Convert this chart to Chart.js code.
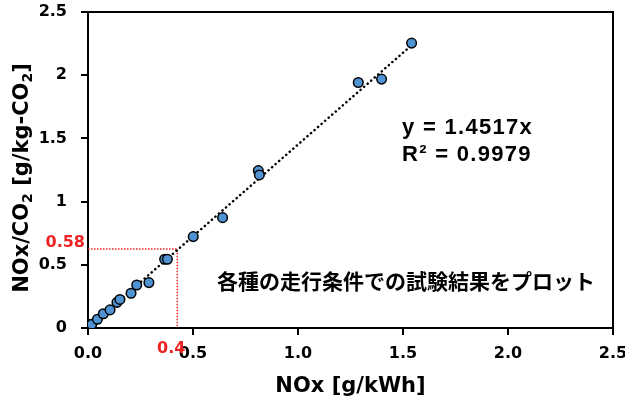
<!DOCTYPE html>
<html>
<head>
<meta charset="utf-8">
<script src="https://cdn.jsdelivr.net/npm/chart.js@4"></script>
<style>
  html, body { margin: 0; padding: 0; background: #fff; }
  #wrap { width: 625px; height: 405px; }
</style>
</head>
<body>
<div id="wrap"><canvas id="myChart" width="625" height="405"></canvas></div>
<script>
const noxX = [0.018, 0.045, 0.073, 0.105, 0.138, 0.152, 0.205, 0.232, 0.290, 0.365, 0.378, 0.501, 0.641, 0.811, 0.816, 1.287, 1.398, 1.541];
const noxY = [0.029, 0.069, 0.113, 0.143, 0.203, 0.226, 0.275, 0.340, 0.359, 0.544, 0.544, 0.723, 0.873, 1.245, 1.211, 1.942, 1.969, 2.254];

// trend line y = 1.4517x
const slope = 1.4517;
const trendX = [0, 1.55];

// red guide lines
const guideX = [0, 0.425, 0.425];
const guideY = [0.625, 0.625, 0];

const xTicks = [0, 0.5, 1.0, 1.5, 2.0, 2.5];
const yTicks = [0, 0.5, 1, 1.5, 2, 2.5];

// y title pieces: [text, subscript?]
const yTitle = [['NOx/CO', false], ['2', true], [' [g/kg-CO', false], ['2', true], [']', false]];

const boldFont = "'DejaVu Sans', sans-serif";

const points = noxX.map((x, i) => ({ x: x, y: noxY[i] }));
const trend = trendX.map(x => ({ x: x, y: slope * x }));
const guide = guideX.map((x, i) => ({ x: x, y: guideY[i] }));

const extras = {
    id: 'extras',
    beforeDatasetsDraw(chart) {
        const { ctx, chartArea: a } = chart;
        ctx.save();
        ctx.strokeStyle = '#000';
        ctx.lineWidth = 2;
        ctx.beginPath();
        ctx.moveTo(a.left, a.top);
        ctx.lineTo(a.right, a.top);
        ctx.lineTo(a.right, a.bottom);
        ctx.stroke();
        ctx.restore();
    },
    afterDraw(chart) {
        const { ctx } = chart;
        const xs = chart.scales.x, ys = chart.scales.y;
        ctx.save();
        ctx.fillStyle = '#000';
        ctx.textBaseline = 'middle';
        ctx.textAlign = 'left';

        // y axis title with real subscripts
        const big = "bold 21px " + boldFont, small = "bold 14px " + boldFont;
        let total = 0;
        yTitle.forEach(([t, sub]) => { ctx.font = sub ? small : big; total += ctx.measureText(t).width; });
        ctx.save();
        ctx.translate(20, 178);
        ctx.rotate(-Math.PI / 2);
        ctx.textBaseline = 'alphabetic';
        let px = -total / 2;
        yTitle.forEach(([t, sub]) => {
            ctx.font = sub ? small : big;
            ctx.fillText(t, px, sub ? 12 : 8);
            px += ctx.measureText(t).width;
        });
        ctx.restore();

        ctx.font = "bold 22px 'Liberation Sans', Arial, sans-serif";
        ctx.letterSpacing = '1.3px';
        ctx.fillText('y = 1.4517x', 402, 128);
        ctx.fillText('R² = 0.9979', 402, 155);
        ctx.letterSpacing = '0px';

        ctx.font = "bold 21px 'Noto Sans CJK JP', sans-serif";
        ctx.fillText('各種の走行条件での試験結果をプロット', 217, 281);

        ctx.fillStyle = '#ee2222';
        ctx.font = "bold 16px " + boldFont;
        ctx.textAlign = 'right';
        ctx.fillText('0.58', 85, ys.getPixelForValue(guideY[0]) - 6);
        ctx.textAlign = 'center';
        ctx.fillText('0.4', xs.getPixelForValue(guideX[1]) - 6, 349);
        ctx.restore();
    }
};

new Chart(document.getElementById('myChart'), {
    type: 'scatter',
    data: {
        datasets: [{
            data: points,
            pointRadius: 4.8,
            pointBackgroundColor: '#4f93d2',
            pointBorderColor: '#000',
            pointBorderWidth: 1.5,
            order: 1
        }, {
            type: 'line',
            data: trend,
            borderColor: '#000',
            borderWidth: 2.5,
            borderDash: [0.1, 4.6],
            borderCapStyle: 'round',
            pointRadius: 0,
            fill: false,
            order: 2
        }, {
            type: 'line',
            data: guide,
            borderColor: '#ee2222',
            borderWidth: 1.5,
            borderDash: [1.5, 1.5],
            pointRadius: 0,
            fill: false,
            order: 3
        }]
    },
    options: {
        responsive: false,
        animation: false,
        layout: { padding: { top: 12, right: 12, left: 0, bottom: 0 } },
        plugins: {
            legend: { display: false },
            tooltip: { enabled: false }
        },
        scales: {
            x: {
                type: 'linear',
                min: 0,
                max: 2.5,
                afterBuildTicks: s => { s.ticks = xTicks.map(v => ({ value: v })); },
                afterFit: s => { s.height = 77; s.paddingLeft = 0; s.paddingRight = 0; },
                ticks: {
                    color: '#000',
                    padding: 9,
                    font: { family: boldFont, size: 16, weight: 'bold' },
                    callback: v => v.toFixed(1)
                },
                grid: { drawOnChartArea: false, tickLength: 7, color: '#000', lineWidth: 2 },
                border: { color: '#000', width: 2 },
                title: {
                    display: true,
                    text: 'NOx [g/kWh]',
                    color: '#000',
                    font: { family: boldFont, size: 21, weight: 'bold' },
                    padding: { top: 0, bottom: 6 }
                }
            },
            y: {
                min: 0,
                max: 2.5,
                afterBuildTicks: s => { s.ticks = yTicks.map(v => ({ value: v })); },
                afterFit: s => { s.width = 88; s.paddingTop = 0; s.paddingBottom = 0; },
                ticks: {
                    color: '#000',
                    padding: 14,
                    font: { family: boldFont, size: 16, weight: 'bold' },
                    callback: v => String(v)
                },
                grid: { drawOnChartArea: false, tickLength: 7, color: '#000', lineWidth: 2 },
                border: { color: '#000', width: 2 }
            }
        }
    },
    plugins: [extras]
});
</script>
</body>
</html>
